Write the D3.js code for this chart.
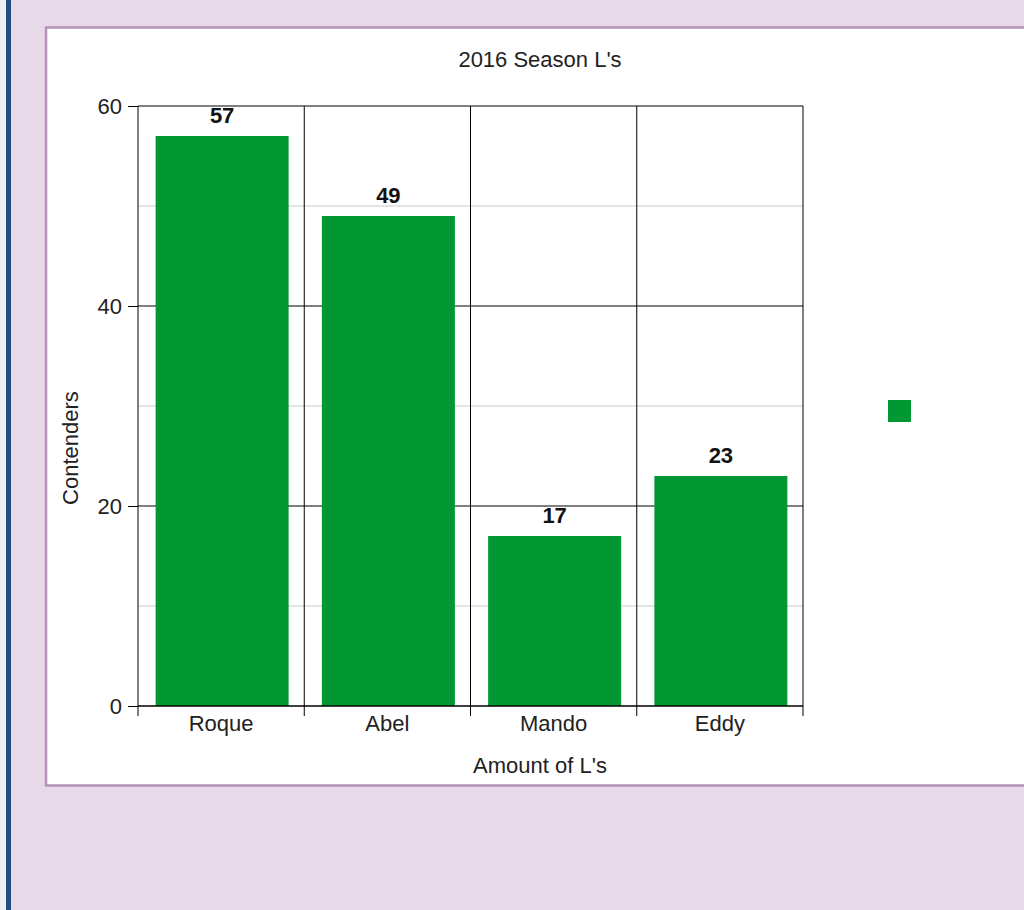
<!DOCTYPE html>
<html><head><meta charset="utf-8">
<script src="https://cdn.jsdelivr.net/npm/d3@7"></script>
<style>html,body{margin:0;padding:0;background:#e7d9e8;}svg{display:block;}</style>
</head><body>
<script>
const categories = ["Roque","Abel","Mando","Eddy"];
const values = [57,49,17,23];
const yTicks = [0,20,40,60];
const yMinor = [10,30,50];
const title = "2016 Season L's";
const xTitle = "Amount of L's";
const yTitle = "Contenders";

const W=1024,H=910;
const svg=d3.select("body").append("svg").attr("width",W).attr("height",H);
svg.append("rect").attr("width",W).attr("height",H).attr("fill","#e7d9e8");
svg.append("rect").attr("x",0).attr("y",0).attr("width",6).attr("height",H).attr("fill","#eef0f5");
svg.append("rect").attr("x",6).attr("y",0).attr("width",5).attr("height",H).attr("fill","#24507f");
svg.append("rect").attr("x",46).attr("y",27.5).attr("width",1000).attr("height",758).attr("fill","#fff").attr("stroke","#b592b8").attr("stroke-width",2.5);

const font="Liberation Sans, Arial, sans-serif";
const fs=22;
const L=138,R=803,T=106,B=706;
const x=d3.scaleBand().domain(categories).range([L,R]).paddingInner(0.2).paddingOuter(0.1);
const xb=d3.scaleBand().domain(categories).range([L,R]);
const y=d3.scaleLinear().domain([0,60]).range([B,T]);

const g=svg.append("g");
g.selectAll(".mn").data(yMinor).join("line").attr("x1",L).attr("x2",R).attr("y1",d=>y(d)).attr("y2",d=>y(d)).attr("stroke","#c8c8c8").attr("stroke-width",1);
g.selectAll(".mj").data(yTicks.filter(d=>d>0)).join("line").attr("x1",L).attr("x2",R).attr("y1",d=>y(d)).attr("y2",d=>y(d)).attr("stroke","#000").attr("stroke-width",1);
g.selectAll(".vs").data(categories.slice(1)).join("line").attr("x1",d=>xb(d)).attr("x2",d=>xb(d)).attr("y1",T).attr("y2",B).attr("stroke","#000");
g.append("line").attr("x1",R).attr("x2",R).attr("y1",T).attr("y2",B+10).attr("stroke","#000");

g.selectAll(".bar").data(values).join("rect").attr("x",(d,i)=>x(categories[i])+1).attr("width",x.bandwidth())
 .attr("y",d=>y(d)).attr("height",d=>B-y(d)).attr("fill","#019733");
g.selectAll(".vl").data(values).join("text").attr("x",(d,i)=>x(categories[i])+1+x.bandwidth()/2).attr("y",d=>y(d)-13)
 .attr("text-anchor","middle").attr("font-family",font).attr("font-weight","bold").attr("font-size",fs).attr("fill","#111").text(d=>d);

const ya=g.append("g").attr("transform",`translate(${L},0)`).call(d3.axisLeft(y).tickValues(yTicks).tickSize(10).tickPadding(6));
ya.select(".domain").attr("stroke","#000").attr("d",`M0,${T}V${B}`);
ya.selectAll("text").attr("font-family",font).attr("font-size",fs).attr("fill","#222");
const xa=g.append("g").attr("transform",`translate(0,${B})`).call(d3.axisBottom(xb).tickSize(0).tickPadding(9));
xa.select(".domain").attr("stroke","#000").attr("stroke-width",1.5).attr("d",`M${L},0H${R}`);
xa.selectAll("text").attr("font-family",font).attr("font-size",fs).attr("fill","#222");
g.selectAll(".xt").data(categories).join("line").attr("x1",d=>xb(d)).attr("x2",d=>xb(d)).attr("y1",B).attr("y2",B+10).attr("stroke","#000");

svg.append("text").attr("x",540).attr("y",67).attr("text-anchor","middle").attr("font-family",font).attr("font-size",fs).attr("fill","#222").text(title);
svg.append("text").attr("x",540).attr("y",773).attr("text-anchor","middle").attr("font-family",font).attr("font-size",fs).attr("fill","#222").text(xTitle);
svg.append("text").attr("transform","translate(78,448) rotate(-90)").attr("text-anchor","middle").attr("font-family",font).attr("font-size",fs).attr("fill","#222").text(yTitle);
svg.append("rect").attr("x",888).attr("y",400).attr("width",23).attr("height",22).attr("fill","#019733");
</script>
</body></html>
